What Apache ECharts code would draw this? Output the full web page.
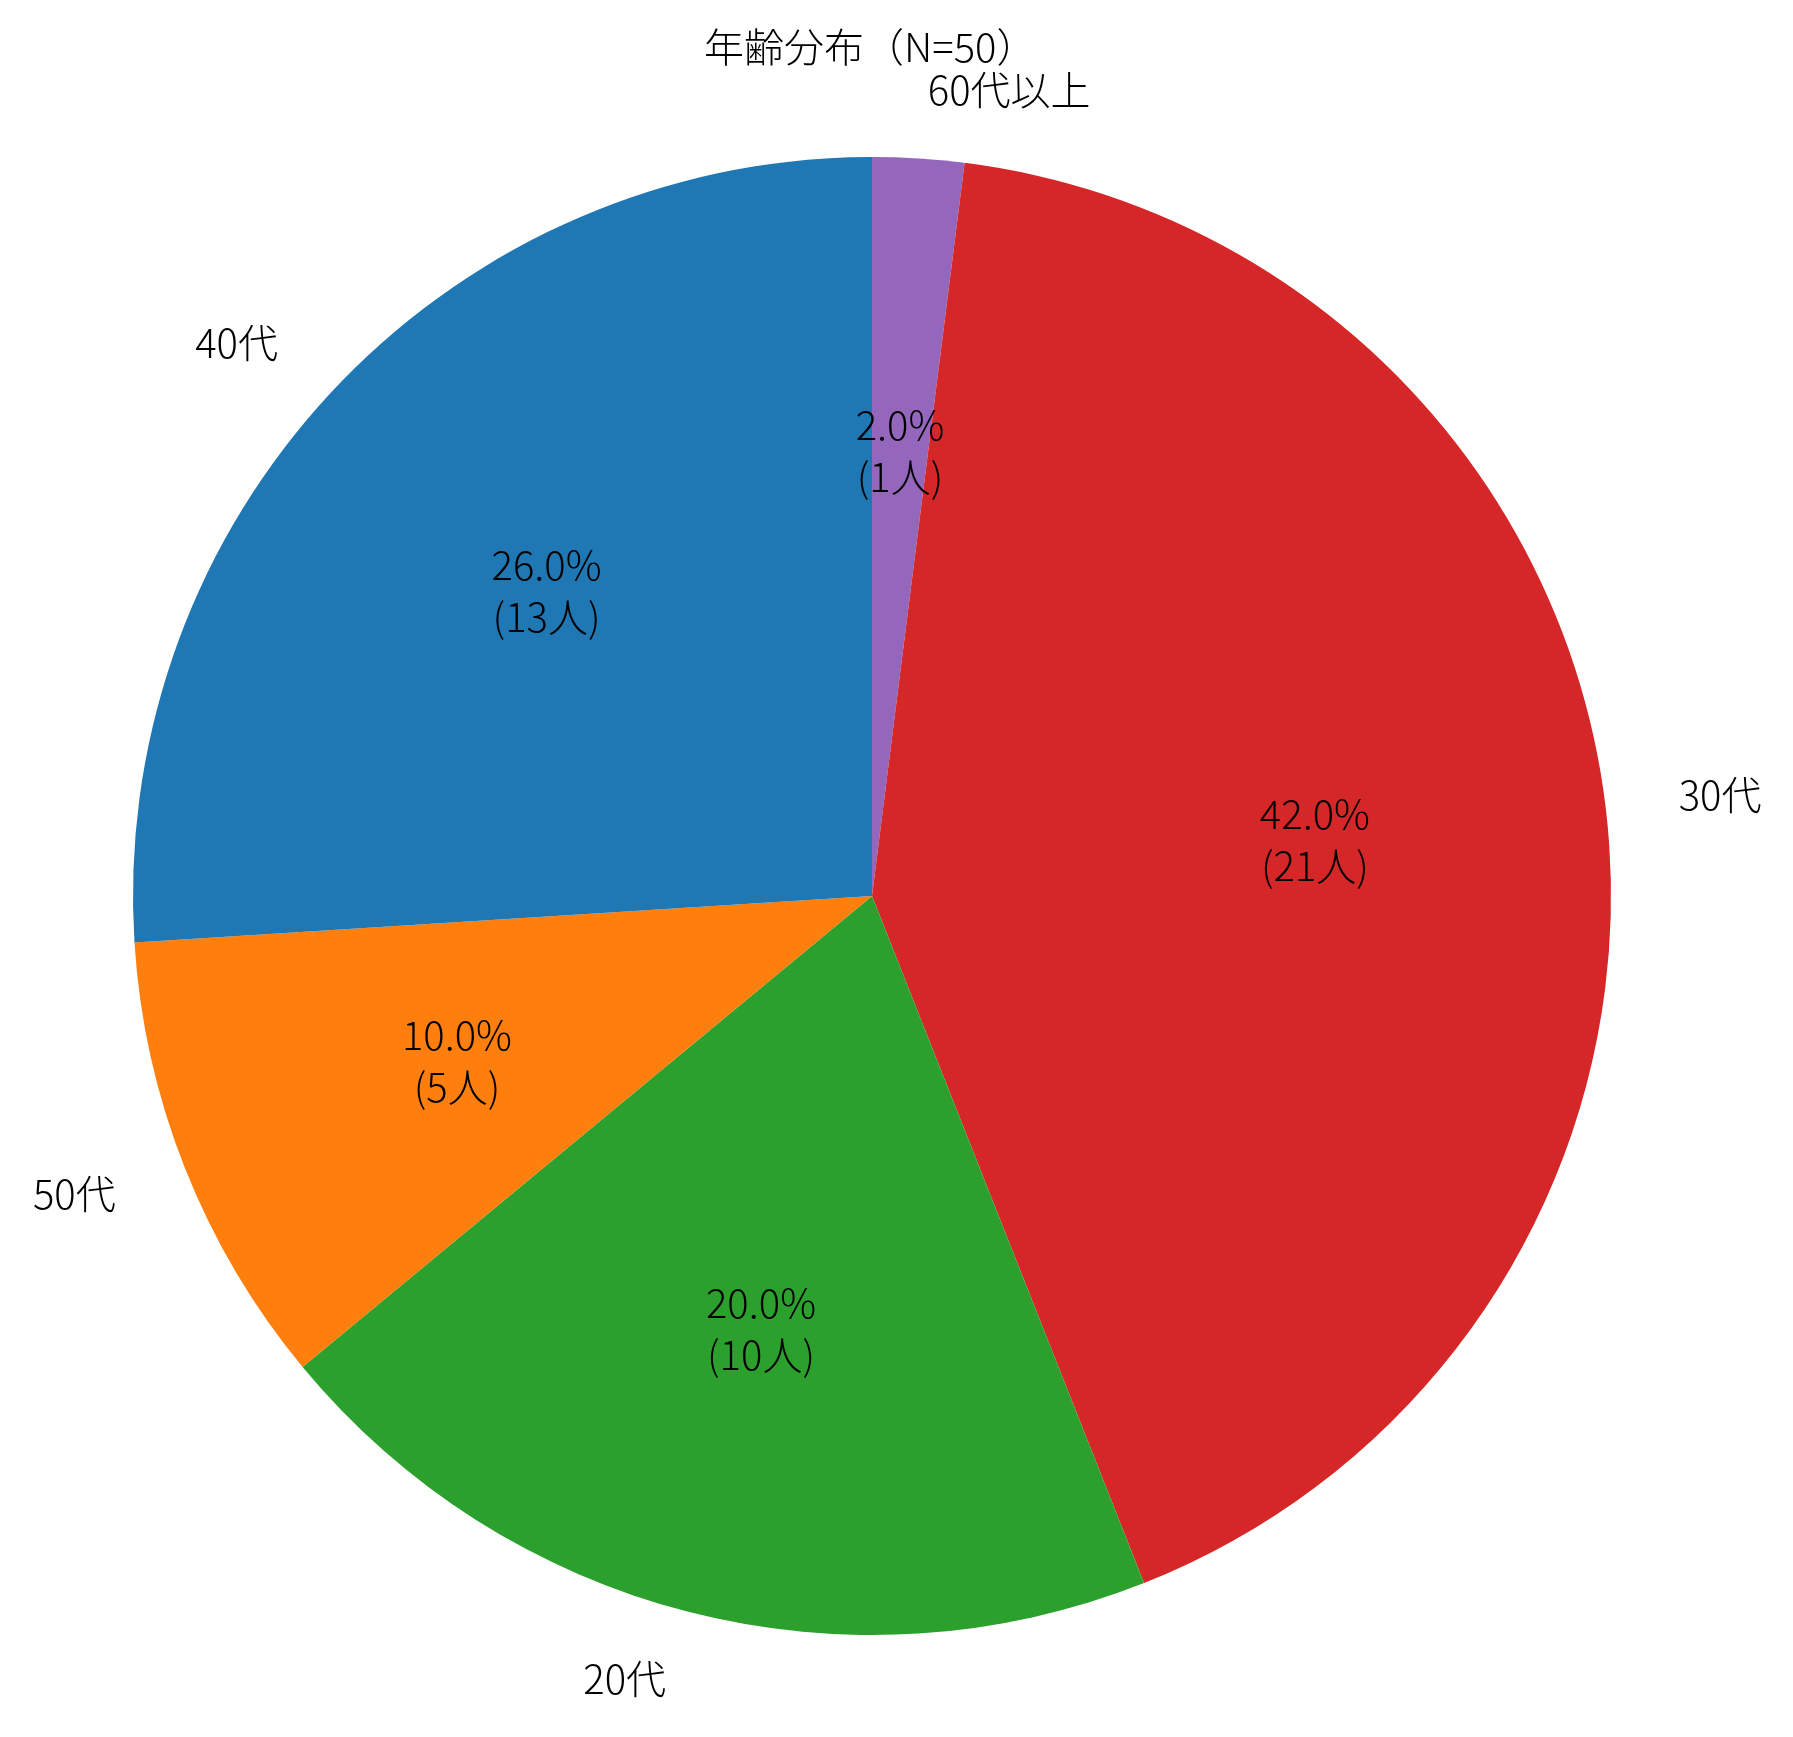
<!DOCTYPE html>
<html>
<head>
<meta charset="utf-8">
<style>
  html, body { margin: 0; padding: 0; background: #fff; }
  #ageChart { width: 1793px; height: 1737px; }
</style>
</head>
<body>
<div id="ageChart"></div>
<script src="https://cdn.jsdelivr.net/npm/echarts@6/dist/echarts.min.js"></script>
<script type="text/javascript">
    // clockwise from 12 o'clock
    var categories = ['60代以上', '30代', '20代', '50代', '40代'];
    var counts = [1, 21, 10, 5, 13];
    var sliceColors = ['#9467bd', '#d62728', '#2ca02c', '#ff7f0e', '#1f77b4'];
    var total = 50;

    var FONT = '"Noto Sans CJK JP", "Noto Sans", sans-serif';
    var WEIGHT = 200;
    var R = 739;
    var CENTER = [872, 896];

    var pieData = categories.map(function (name, i) {
        return { name: name, value: counts[i], itemStyle: { color: sliceColors[i] } };
    });

    var myChart = echarts.init(document.getElementById('ageChart'));

    var option = {
        animation: false,
        title: {
            text: '年齢分布（N=50）',
            left: 699,
            top: 22,
            textStyle: {
                fontFamily: FONT,
                fontSize: 40,
                fontWeight: WEIGHT,
                color: '#000'
            }
        },
        series: [{
            name: 'age',
            type: 'pie',
            center: CENTER,
            radius: R,
            startAngle: 90,
            clockwise: true,
            avoidLabelOverlap: false,
            data: pieData,
            label: {
                show: true,
                position: 'outside',
                formatter: '{b}',
                fontFamily: FONT,
                fontSize: 40,
                fontWeight: WEIGHT,
                color: '#000'
            },
            labelLine: {
                show: false,
                length: Math.round(R * 0.1) - 5,
                length2: 0
            },
            emphasis: { disabled: true }
        }, {
            name: 'pct',
            type: 'pie',
            center: CENTER,
            radius: [R * 0.2, R],
            startAngle: 90,
            clockwise: true,
            silent: true,
            z: 3,
            data: pieData.map(function (d) {
                return { name: d.name, value: d.value, itemStyle: { color: 'rgba(0,0,0,0)' } };
            }),
            label: {
                show: true,
                position: 'inside',
                formatter: function (p) {
                    return (p.value / total * 100).toFixed(1) + '%\n(' + p.value + '人)';
                },
                fontFamily: FONT,
                fontSize: 40,
                fontWeight: WEIGHT,
                lineHeight: 52,
                color: '#000'
            },
            labelLine: { show: false },
            emphasis: { disabled: true }
        }]
    };

    myChart.setOption(option);
</script>
</body>
</html>
